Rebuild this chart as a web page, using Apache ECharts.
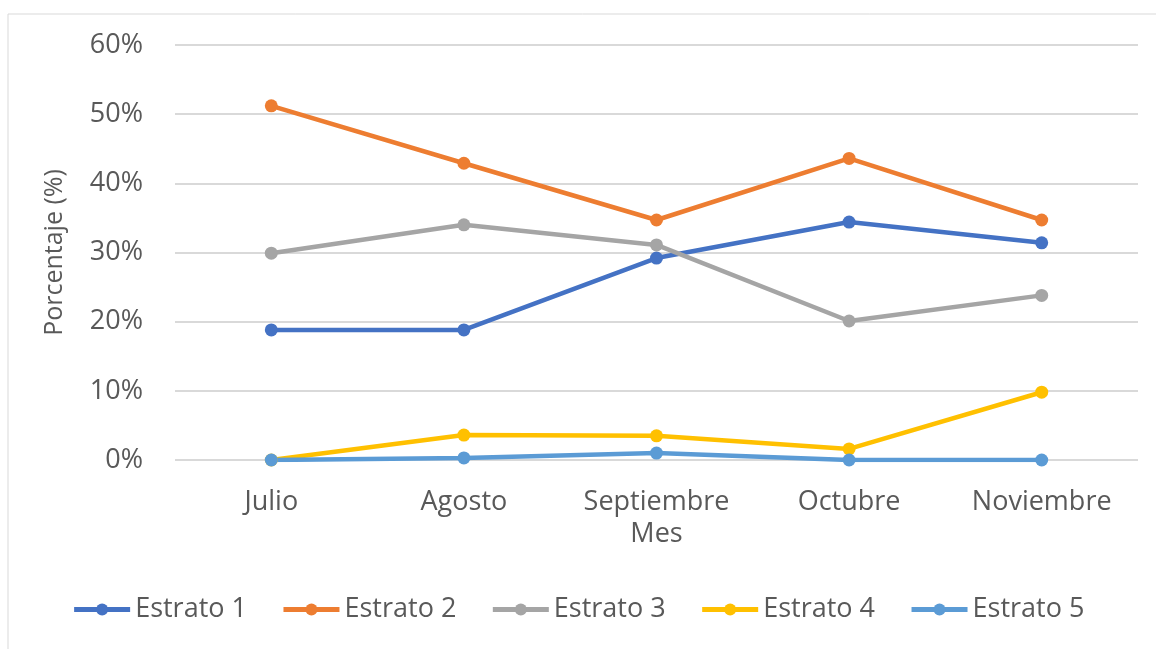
<!DOCTYPE html>
<html>
<head>
<meta charset="utf-8">
<script src="https://cdn.jsdelivr.net/npm/echarts@6/dist/echarts.min.js"></script>
<style>
  html, body { margin: 0; padding: 0; background: #fff; }
  #chart { width: 1156px; height: 649px; }
</style>
</head>
<body>
<div id="chart"></div>
<script>
// Datos
const meses = ['Julio', 'Agosto', 'Septiembre', 'Octubre', 'Noviembre']
const estrato1 = [18.8, 18.8, 29.2, 34.4, 31.4]
const estrato2 = [51.2, 42.9, 34.7, 43.6, 34.7]
const estrato3 = [29.9, 34.0, 31.1, 20.1, 23.8]
const estrato4 = [0, 3.6, 3.5, 1.6, 9.8]
const estrato5 = [0, 0.3, 1.0, 0, 0]
const colors = ['#4472C4', '#ED7D31', '#A5A5A5', '#FFC000', '#5B9BD5']
const font = '"Open Sans", Lato, sans-serif'

function serie(name, data) {
  return {
    name: name,
    type: 'line',
    data: data,
    symbol: 'circle',
    symbolSize: 13,
    lineStyle: { width: 4.5 },
    emphasis: { disabled: true }
  }
}

const option = {
  color: colors,
  animation: false,
  textStyle: { fontFamily: font },
  graphic: [{
    type: 'rect',
    shape: { x: 8, y: 14, width: 1160, height: 650 },
    style: { fill: 'none', stroke: '#d9d9d9', lineWidth: 1 },
    silent: true
  }],
  grid: { left: 175, right: 18, top: 45, bottom: 189 },
  legend: {
    bottom: 21,
    left: 'center',
    itemWidth: 56,
    itemHeight: 15,
    itemGap: 34,
    lineStyle: { width: 5 },
    textStyle: { color: '#595959', fontSize: 27, fontFamily: font }
  },
  xAxis: {
    type: 'category',
    data: meses,
    name: 'Mes',
    nameLocation: 'middle',
    nameGap: 57,
    nameTextStyle: { color: '#595959', fontSize: 27 },
    boundaryGap: true,
    axisLine: { show: false },
    axisTick: { show: false },
    axisLabel: { color: '#595959', fontSize: 27, margin: 29 }
  },
  yAxis: {
    type: 'value',
    min: 0,
    max: 60,
    interval: 10,
    name: 'Porcentaje (%)',
    nameLocation: 'middle',
    nameGap: 108,
    nameTextStyle: { color: '#595959', fontSize: 25 },
    axisLabel: { color: '#595959', fontSize: 27, margin: 32, formatter: '{value}%' },
    splitLine: { lineStyle: { color: '#d9d9d9', width: 2 } }
  },
  series: [
    serie('Estrato 1', estrato1),
    serie('Estrato 2', estrato2),
    serie('Estrato 3', estrato3),
    serie('Estrato 4', estrato4),
    serie('Estrato 5', estrato5)
  ]
}

const chart = echarts.init(document.getElementById('chart'))
chart.setOption(option)
</script>
</body>
</html>
